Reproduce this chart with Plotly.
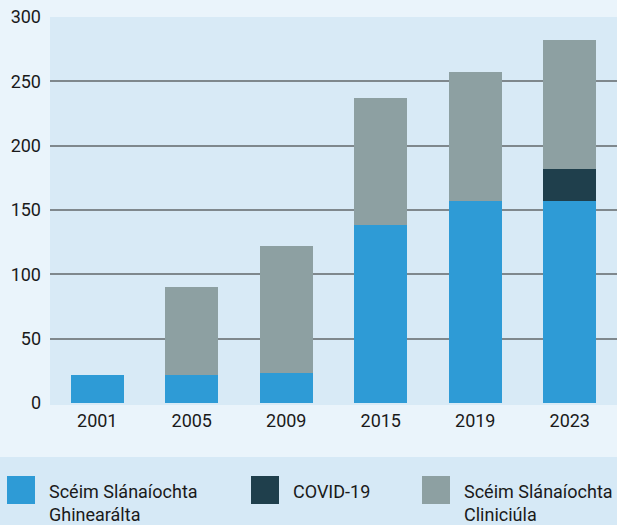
import plotly.graph_objects as go

# Scheme membership by year (counts)
years = ["2001", "2005", "2009", "2015", "2019", "2023"]
ginearalta = [22, 22, 23, 138, 157, 157]
covid = [0, 0, 0, 0, 0, 25]
cliniciula = [0, 68, 99, 99, 100, 100]

series_names = ["Scéim Slánaíochta<br>Ghinearálta", "COVID-19", "Scéim Slánaíochta<br>Cliniciúla"]
colors = ["#2e9bd6", "#1f3f4c", "#8da0a2"]

W, H = 617, 525
M_L, M_R, M_T, M_B = 50, 0, 17, 122
PW, PH = W - M_L - M_R, H - M_T - M_B

PAPER = "#eaf4fb"
PLOT = "#d8eaf6"
BAND = "#d6e9f6"
FONT = "Roboto"

fig = go.Figure()
for name, vals, col in zip(series_names, [ginearalta, covid, cliniciula], colors):
    fig.add_trace(go.Bar(x=years, y=vals, name=name, marker=dict(color=col, line=dict(width=0)),
                         showlegend=False, hoverinfo="x+y"))


def px_x(p):
    return (p - M_L) / PW


def px_y(p):
    return (M_T + PH - p) / PH


# legend band across the bottom of the page
fig.add_shape(type="rect", xref="paper", yref="paper", x0=px_x(0), x1=px_x(W), y0=px_y(457), y1=px_y(H + 2),
              fillcolor=BAND, line=dict(width=0), layer="below")

legend_pos = [(7, 47), (251, 291), (422, 462)]
for (sx, tx), name, col in zip(legend_pos, series_names, colors):
    fig.add_shape(type="rect", xref="paper", yref="paper", x0=px_x(sx), x1=px_x(sx + 28),
                  y0=px_y(504), y1=px_y(476), fillcolor=col, line=dict(width=0))
    fig.add_annotation(xref="paper", yref="paper", x=px_x(tx), y=px_y(479), text=name, showarrow=False,
                       xanchor="left", yanchor="top", align="left",
                       font=dict(family=FONT, size=18, color="#1a1a1a"))

fig.update_layout(
    width=W, height=H,
    margin=dict(l=M_L, r=M_R, t=M_T, b=M_B, pad=0),
    paper_bgcolor=PAPER, plot_bgcolor=PLOT,
    barmode="stack", bargap=0.44,
    font=dict(family=FONT, size=18, color="#1a1a1a"),
    xaxis=dict(showgrid=False, showline=False, ticks="", tickfont=dict(size=18), ticklabelstandoff=5),
    yaxis=dict(range=[0, 300], tickvals=[0, 50, 100, 150, 200, 250, 300], showgrid=True,
               gridcolor="#7f888d", gridwidth=1.5, zeroline=True, zerolinecolor=PLOT, zerolinewidth=3,
               showline=False, ticks="", tickfont=dict(size=18), ticklabelstandoff=8),
)

fig.write_html("out.html")
